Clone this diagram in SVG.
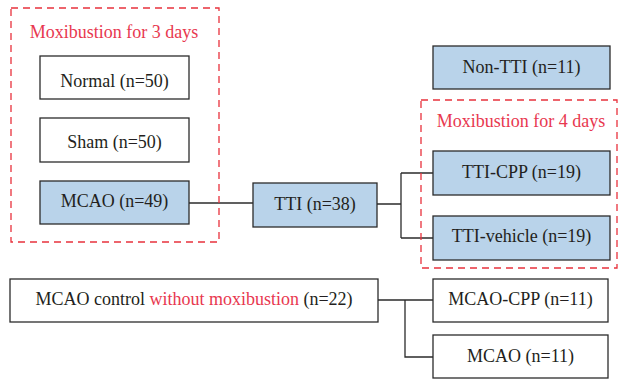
<svg xmlns="http://www.w3.org/2000/svg" width="619" height="379" viewBox="0 0 619 379">
<style>
.box{fill:#fff;stroke:#2b2b2b;stroke-width:1.3}
.blue{fill:#b9d3ea}
.dash{fill:none;stroke:#e8323c;stroke-width:1.3;stroke-dasharray:7 5}
text{font-family:'Liberation Serif','Times New Roman',Times,serif;font-size:18px;fill:#231f20;text-anchor:middle}
.red{fill:#e8384f}
.conn{fill:none;stroke:#2b2b2b;stroke-width:1.3}
</style>
<rect width="619" height="379" fill="#fff"/>
<g id="connectors">
<path class="conn" d="M189 203H253"/>
<path class="conn" d="M377 204H401M401 173V238M401 173H433M401 238H433"/>
<path class="conn" d="M378 300H433M405 300V357H433"/>
</g>
<g id="group-3days">
<rect class="dash" x="11" y="8" width="208" height="234"/>
<text class="red" x="114" y="38">Moxibustion for 3 days</text>
</g>
<g id="group-4days">
<rect class="dash" x="421" y="100" width="196" height="168"/>
<text class="red" x="521" y="127">Moxibustion for 4 days</text>
</g>
<g id="normal"><rect class="box" x="40" y="56" width="149" height="43"/><text x="114.5" y="87">Normal (n=50)</text></g>
<g id="sham"><rect class="box" x="40" y="118" width="149" height="44"/><text x="114.5" y="148">Sham (n=50)</text></g>
<g id="mcao49"><rect class="box blue" x="40" y="181" width="149" height="43"/><text x="114.5" y="207">MCAO (n=49)</text></g>
<g id="tti"><rect class="box blue" x="253" y="183" width="124" height="44"/><text x="315" y="210">TTI (n=38)</text></g>
<g id="nontti"><rect class="box blue" x="433" y="46" width="177" height="43"/><text x="521.5" y="73">Non-TTI (n=11)</text></g>
<g id="tticpp"><rect class="box blue" x="433" y="151" width="177" height="44"/><text x="521.5" y="178">TTI-CPP (n=19)</text></g>
<g id="ttivehicle"><rect class="box blue" x="433" y="216" width="177" height="44"/><text x="521.5" y="242">TTI-vehicle (n=19)</text></g>
<g id="mcaocontrol"><rect class="box" x="10" y="279" width="368" height="43"/><text x="194" y="305">MCAO control <tspan class="red">without moxibustion</tspan> (n=22)</text></g>
<g id="mcaocpp"><rect class="box" x="433" y="279" width="175" height="43"/><text x="520.5" y="305">MCAO-CPP (n=11)</text></g>
<g id="mcao11"><rect class="box" x="433" y="335" width="175" height="43"/><text x="520.5" y="362">MCAO (n=11)</text></g>
</svg>
